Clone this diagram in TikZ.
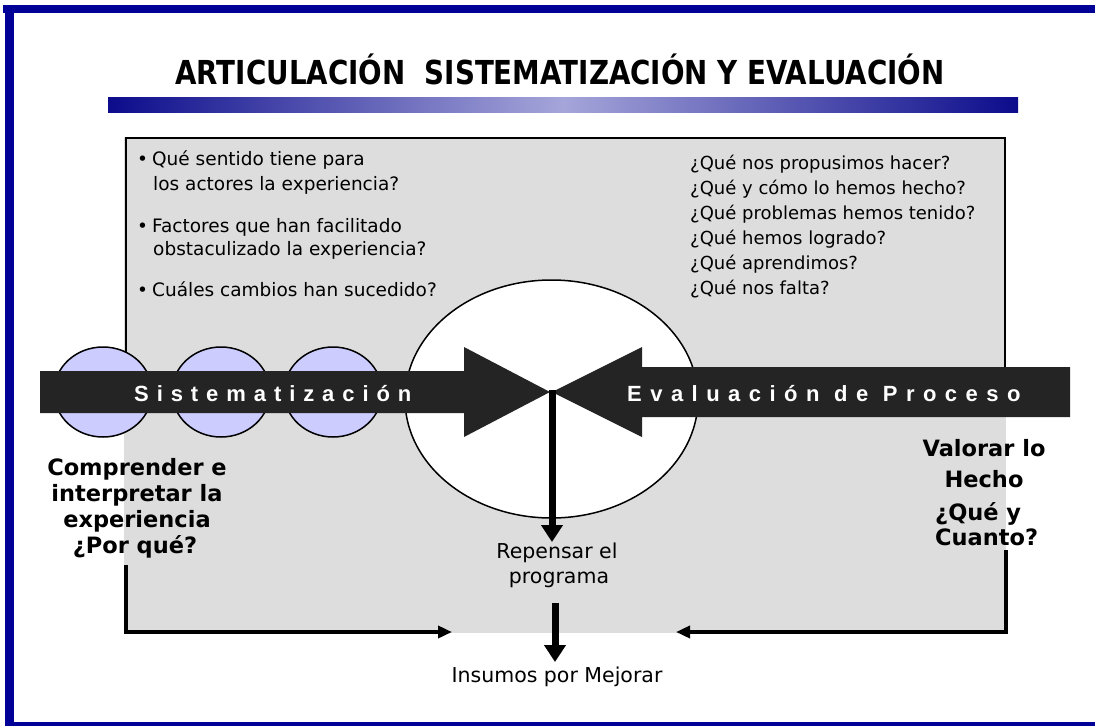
\documentclass[tikz,border=0pt]{standalone}
\usepackage{fontspec}
\setmainfont{DejaVu Sans}
\newfontfamily\titlefont{DejaVu Sans}[FakeStretch=0.84]
\newfontfamily\barfont{Liberation Sans}[LetterSpace=36]
\usetikzlibrary{arrows.meta,shapes.geometric}
\definecolor{frameblue}{RGB}{0,0,150}
\definecolor{greybg}{RGB}{221,221,221}
\definecolor{lav}{RGB}{204,204,255}
\definecolor{bardark}{RGB}{36,36,36}
\definecolor{gdark}{RGB}{12,12,140}
\definecolor{glight}{RGB}{165,165,218}
\tikzset{
  txt/.style={inner sep=0pt, font=\fontsize{18}{22}\selectfont},
  ltxt/.style={inner sep=0pt, font=\fontsize{18.5}{22}\selectfont},
  mtxt/.style={inner sep=0pt, font=\fontsize{20.5}{24}\selectfont},
  boldtxt/.style={inner sep=0pt, font=\fontsize{22.5}{26}\selectfont\bfseries},
  bartext/.style={inner sep=0pt, text=white, font=\barfont\bfseries\fontsize{22}{24}\selectfont},
  blob/.style={ellipse, draw, line width=1.5pt, fill=lav, minimum width=98pt, minimum height=90pt, inner sep=0pt},
  thickarrow/.style={line width=7pt, -{Triangle[width=21pt,length=17pt]}},
  conn/.style={line width=4pt, line join=miter, -{Triangle[width=12pt,length=14pt]}}
}
\begin{document}
\begin{tikzpicture}[x=1pt,y=-1pt]
\useasboundingbox (0,0) rectangle (1095,726);
% frame
\fill[frameblue] (3,5) rectangle (1095,13);
\fill[frameblue] (5,5) rectangle (14,726);
\fill[frameblue] (5,722) rectangle (1095,726);
% title
\node[inner sep=0pt, anchor=base, font=\titlefont\bfseries\fontsize{33}{36}\selectfont] (title) at (560,84) {ARTICULACIÓN\ \ SISTEMATIZACIÓN Y EVALUACIÓN};
\shade[left color=gdark, right color=gdark, middle color=glight] (108,97) rectangle (1018,112);
% grey panel
\fill[greybg] (124,137) rectangle (1006,633);
\draw[line width=2pt] (126,400) -- (126,138) -- (1005,138) -- (1005,392);
% hub
\node[ellipse, draw, line width=1.5pt, fill=white, minimum width=293pt, minimum height=238pt, inner sep=0pt] (hub) at (551.5,399) {};
% blobs
\node[blob] (e1) at (103,392) {};
\node[blob] (e2) at (221,392) {};
\node[blob] (e3) at (333,392) {};
% block arrows
\fill[bardark] (40,371) -- (464,371) -- (464,347) -- (550,392) -- (464,437) -- (464,413) -- (40,413) -- cycle;
\fill[bardark] (1070,367) -- (642,367) -- (642,347) -- (552,392) -- (642,437) -- (642,417) -- (1070,417) -- cycle;
\node[bartext, anchor=base west] (sist) at (134,401) {Sistematización};
\node[bartext, anchor=base west] (eval) at (627,401) {\addfontfeature{LetterSpace=38.5}Evaluación de Proceso};
% left list
\node[ltxt, anchor=base west] (l1) at (137,165) {\makebox[15pt][l]{•}Qué sentido tiene para};
\node[ltxt, anchor=base west] (l2) at (153,190) {los actores la experiencia?};
\node[ltxt, anchor=base west] (l3) at (137,232) {\makebox[15pt][l]{•}Factores que han facilitado};
\node[ltxt, anchor=base west] (l4) at (153,255) {obstaculizado la experiencia?};
\node[ltxt, anchor=base west] (l5) at (137,296) {\makebox[15pt][l]{•}Cuáles cambios han sucedido?};
% right list
\node[txt, anchor=base west] (r1) at (690,169) {¿Qué nos propusimos hacer?};
\node[txt, anchor=base west] (r2) at (690,194) {¿Qué y cómo lo hemos hecho?};
\node[txt, anchor=base west] (r3) at (690,219) {¿Qué problemas hemos tenido?};
\node[txt, anchor=base west] (r4) at (690,244) {¿Qué hemos logrado?};
\node[txt, anchor=base west] (r5) at (690,269) {¿Qué aprendimos?};
\node[txt, anchor=base west] (r6) at (690,294) {¿Qué nos falta?};
% left bold block
\node[boldtxt, anchor=base] (c1) at (137,475) {Comprender e};
\node[boldtxt, anchor=base] (c2) at (137,501) {interpretar la};
\node[boldtxt, anchor=base] (c3) at (137,527) {experiencia};
\node[boldtxt, anchor=base] (c4) at (135,553) {¿Por qué?};
% right bold block
\node[boldtxt, anchor=base] (v1) at (984,456) {Valorar lo};
\node[boldtxt, anchor=base] (v2) at (984,487) {Hecho};
\node[boldtxt, anchor=base west] (v3) at (935,520) {¿Qué y};
\node[boldtxt, anchor=base west] (v4) at (935,545) {Cuanto?};
% centre texts
\node[mtxt, anchor=base] (rep1) at (557,558) {Repensar el};
\node[mtxt, anchor=base] (rep2) at (559,583) {programa};
\node[mtxt, anchor=base] (ins) at (557,682) {Insumos por Mejorar};
% connectors
\coordinate (junc) at (552,390);
\coordinate (repin) at (552,542);
\coordinate (insout) at (555,603);
\coordinate (insin) at (555,662);
\draw[thickarrow] (junc) -- (repin);
\draw[thickarrow] (insout) -- (insin);
\coordinate (lc1) at (126,565);
\coordinate (lc2) at (452,632);
\coordinate (rc1) at (1006,550);
\coordinate (rc2) at (676,632);
\draw[conn] (lc1) |- (lc2);
\draw[conn] (rc1) |- (rc2);
\end{tikzpicture}
\end{document}
